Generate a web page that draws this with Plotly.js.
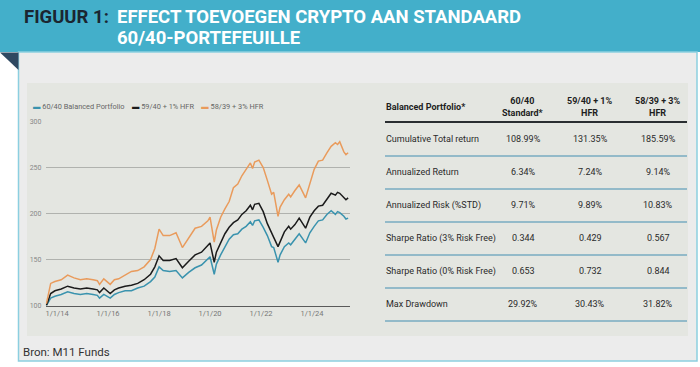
<!DOCTYPE html>
<html><head><meta charset="utf-8">
<script src="https://cdn.plot.ly/plotly-3.0.1.min.js"></script>
<style>html,body{margin:0;padding:0;background:#fff;}#chart{width:700px;height:367px;}</style>
</head><body><div id="chart"></div>
<script>
// ---- chart data ----
const dates = ['2013-08-01','2013-10-01','2013-12-01','2014-03-01','2014-06-01','2014-09-01','2014-12-01','2015-03-01','2015-06-01','2015-08-01','2015-09-01','2015-11-01','2016-02-01','2016-04-01','2016-06-01','2016-09-01','2016-12-01','2017-03-01','2017-06-01','2017-09-01','2017-11-01','2018-01-01','2018-03-01','2018-06-01','2018-09-01','2018-12-01','2019-03-01','2019-06-01','2019-09-01','2019-12-01','2020-01-01','2020-03-01','2020-04-01','2020-06-01','2020-08-01','2020-10-01','2020-12-01','2021-02-01','2021-04-01','2021-06-01','2021-08-01','2021-09-01','2021-10-01','2021-12-01','2022-02-01','2022-04-01','2022-06-01','2022-07-01','2022-09-01','2022-10-01','2022-12-01','2023-02-01','2023-03-01','2023-05-01','2023-07-01','2023-10-01','2023-12-01','2024-02-01','2024-04-01','2024-06-01','2024-08-01','2024-10-01','2024-12-01','2025-01-01','2025-02-01','2025-04-01','2025-05-01','2025-06-01'];
const balanced6040 = [100,108,110,112,115,113,112,113,112,111,108,112,108,112,114,116,116,119,121,126,131,142,138,137,138,130,136,141,144,150,153,134,145,155,164,172,177,178,183,186,191,187,192,193,185,176,164,163,147,155,164,168,166,172,178,168,179,186,192,193,199,203,199,202,201,197,194,195];
const hfr1 = [100,113,116,118,121,119,118,119,118,117,114,119,113,117,119,121,122,124,128,134,142,154,149,149,151,141,148,155,158,165,168,147,158,168,178,185,190,193,199,203,209,204,210,211,202,189,178,174,164,170,180,186,183,188,195,184,196,203,208,209,216,222,220,223,222,218,215,217];
const hfr3 = [102,124,126,128,133,130,128,129,128,127,123,129,123,128,129,133,137,138,142,150,162,183,176,176,179,163,173,184,186,192,196,169,182,196,205,213,228,232,241,248,255,249,256,258,250,236,221,223,197,207,215,221,218,225,231,217,233,248,257,258,266,273,277,275,278,267,264,266];
const seriesNames = ['60/40 Balanced Portfolio','59/40 + 1% HFR','58/39 + 3% HFR'];
const seriesColors = ['#3a93ae','#1b1b1b','#e99b5c'];
const tickDates = ['2014-01-01','2016-01-01','2018-01-01','2020-01-01','2022-01-01','2024-01-01'];
const tickLabels = ['1/1/14','1/1/16','1/1/18','1/1/20','1/1/22','1/1/24'];
const yTicks = [100,150,200,250,300];

// ---- table data ----
const tableHeader = ['Balanced Portfolio*','60/40<br>Standard*','59/40 + 1%<br>HFR','58/39 + 3%<br>HFR'];
const rowLabels = ['Cumulative Total return','Annualized Return','Annualized Risk (%STD)','Sharpe Ratio (3% Risk Free)','Sharpe Ratio (0% Risk Free)','Max Drawdown'];
const colStandard = ['108.99%','6.34%','9.71%','0.344','0.653','29.92%'];
const colHfr1 = ['131.35%','7.24%','9.89%','0.429','0.732','30.43%'];
const colHfr3 = ['185.59%','9.14%','10.83%','0.567','0.844','31.82%'];

const titleLabel = 'FIGUUR 1:';
const titleLine1 = 'EFFECT TOEVOEGEN CRYPTO AAN STANDAARD';
const titleLine2 = '60/40-PORTEFEUILLE';
const sourceText = 'Bron: M11 Funds';

// ---- helpers (pixel -> paper) ----
const W = 700, H = 367;
const X = p => p / W;
const Y = p => 1 - p / H;
const FAM = 'Roboto, Arial, sans-serif';

const traces = [balanced6040, hfr1, hfr3].map((vals, i) => ({
  type: 'scatter', mode: 'lines', x: dates, y: vals, name: seriesNames[i],
  line: {color: seriesColors[i], width: 1.5}, hoverinfo: 'skip'
}));

const shapes = [
  {type:'rect', xref:'paper', yref:'paper', x0:X(0), x1:X(700), y0:Y(0), y1:Y(52), fillcolor:'#43afca', line:{width:0}, layer:'below'},
  {type:'rect', xref:'paper', yref:'paper', x0:X(18.5), x1:X(697), y0:Y(52), y1:Y(361), fillcolor:'#ececec', line:{color:'#8ccfe0', width:1.5}, layer:'below'},
  {type:'path', xref:'paper', yref:'paper', path:`M ${X(0)},${Y(52.5)} L ${X(18.5)},${Y(52.5)} L ${X(18.5)},${Y(70)} Z`, fillcolor:'#2e4861', line:{width:0}, layer:'below'},
  {type:'rect', xref:'paper', yref:'paper', x0:X(27), x1:X(688), y0:Y(83), y1:Y(336), fillcolor:'#e4e6e1', line:{width:0}, layer:'below'},
  {type:'line', xref:'paper', yref:'paper', x0:X(385), x1:X(687), y0:Y(122), y1:Y(122), line:{color:'#2a2e31', width:2}}
];
const rowLineY = [156,189,222,255,288,321];
rowLineY.forEach(yy => shapes.push({type:'line', xref:'paper', yref:'paper', x0:X(385), x1:X(687), y0:Y(yy), y1:Y(yy), line:{color:'#78abc0', width:1.5}}));

const annotations = [];
const tFont = {family:FAM, size:18.5, weight:700};
annotations.push({xref:'paper', yref:'paper', x:X(22), y:Y(17), xanchor:'left', yanchor:'middle', showarrow:false, text:titleLabel, font:Object.assign({}, tFont, {color:'#1b2631'})});
annotations.push({xref:'paper', yref:'paper', x:X(115), y:Y(17), xanchor:'left', yanchor:'middle', showarrow:false, text:titleLine1, font:Object.assign({}, tFont, {color:'#ffffff'})});
annotations.push({xref:'paper', yref:'paper', x:X(115), y:Y(38), xanchor:'left', yanchor:'middle', showarrow:false, text:titleLine2, font:Object.assign({}, tFont, {color:'#ffffff'})});
annotations.push({xref:'paper', yref:'paper', x:X(21), y:Y(352), xanchor:'left', yanchor:'middle', showarrow:false, text:sourceText, font:{family:FAM, size:11.5, color:'#333333'}});

// legend (built from series names/colours)
const SP = '\u00a0\u00a0\u00a0\u00a0';
const legendText = seriesNames.map((n, i) => `<span style="color:${seriesColors[i]}"><b>▬</b></span>\u00a0${n}`).join(SP);
annotations.push({xref:'paper', yref:'paper', x:X(31), y:Y(106), xanchor:'left', yanchor:'middle', showarrow:false, text:legendText, font:{family:FAM, size:7.4, color:'#666666'}});

// table
const colX = [384, 523, 590, 658];
const cFont = {family:FAM, size:9, color:'#2a2a2a'};
tableHeader.forEach((h, i) => annotations.push({
  xref:'paper', yref:'paper', x:X(colX[i]), y:Y(107), xanchor: i === 0 ? 'left' : 'center', yanchor:'middle', align: i === 0 ? 'left' : 'center',
  showarrow:false, text:'<b>' + h + '</b>', font:{family:FAM, size:9, color:'#1e1e1e'}
}));
const rowY = [139,172,205,238,271,304];
rowLabels.forEach((lab, r) => {
  annotations.push({xref:'paper', yref:'paper', x:X(colX[0]), y:Y(rowY[r]), xanchor:'left', yanchor:'middle', showarrow:false, text:lab, font:cFont});
  [colStandard, colHfr1, colHfr3].forEach((col, c) => annotations.push({xref:'paper', yref:'paper', x:X(colX[c+1]), y:Y(rowY[r]), xanchor:'center', yanchor:'middle', showarrow:false, text:col[r], font:cFont}));
});

const layout = {
  width: W, height: H,
  margin: {l:0, r:0, t:0, b:0},
  paper_bgcolor:'#ffffff', plot_bgcolor:'rgba(0,0,0,0)',
  showlegend:false,
  xaxis: {
    domain:[X(45.5), X(350)], type:'date', range:['2013-07-19','2025-06-28'],
    tickmode:'array', tickvals:tickDates, ticktext:tickLabels,
    showgrid:false, zeroline:false, showline:true, linecolor:'#5a5a5a', linewidth:1.5,
    ticks:'', tickfont:{family:FAM, size:7.5, color:'#777777'}
  },
  yaxis: {
    domain:[1 - 305.5/H, 1 - 121.5/H], range:[100, 300],
    tickmode:'array', tickvals:yTicks, ticktext:yTicks.map(String),
    showgrid:true, gridcolor:'#b0b2ae', gridwidth:1, zeroline:false, showline:false,
    ticks:'', ticklabelstandoff:3, tickfont:{family:FAM, size:7, color:'#888888'}
  },
  shapes: shapes,
  annotations: annotations
};

Plotly.newPlot('chart', traces, layout, {displayModeBar:false, staticPlot:true});
</script>
</body></html>
